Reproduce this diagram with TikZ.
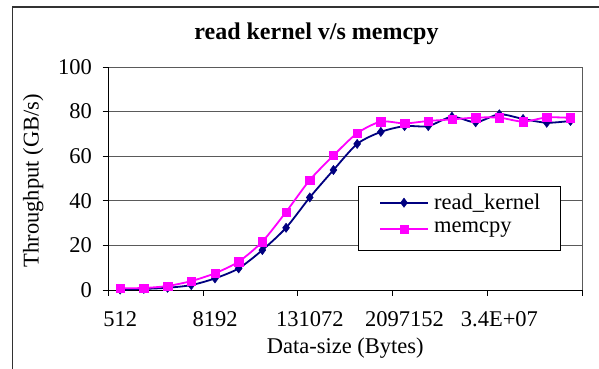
\documentclass[tikz,border=0pt]{standalone}
\usepackage{fontspec}
\setmainfont{Liberation Serif}
\usetikzlibrary{plotmarks}
\definecolor{navyc}{RGB}{0,0,128}
\definecolor{magc}{RGB}{255,0,255}
\definecolor{gridc}{RGB}{90,90,90}
\definecolor{framec}{RGB}{50,50,50}
\begin{document}
\begin{tikzpicture}[x=1pt,y=-1pt,
  lbl/.style={font=\fontsize{22.5}{27}\selectfont, inner sep=0pt},
  ttl/.style={font=\fontsize{24}{28}\selectfont\bfseries, inner sep=0pt},
  gridline/.style={draw=gridc, line width=0.9pt},
  axisline/.style={draw=black, line width=1pt},
  kern/.style={draw=navyc, line width=1.8pt, mark=diamond*, mark size=4.6pt, mark options={fill=navyc, draw=navyc, line width=0.5pt}},
  memc/.style={draw=magc, line width=1.8pt, mark=square*, mark size=4.2pt, mark options={fill=magc, draw=magc, line width=0.5pt}},
  legbox/.style={draw=black, fill=white, line width=1pt}]
\useasboundingbox (0,0) rectangle (599,369);
\fill[white] (0,0) rectangle (599,369);
% outer frame
\draw[framec, line width=1.6pt] (12.3,369) -- (12.3,7.3) -- (599,7.3);
% title
\node[ttl, anchor=base] (title) at (316.5,40) {read kernel v/s memcpy};
% gridlines
\foreach \v/\yy in {20/245.4, 40/200.8, 60/156.2, 80/111.6, 100/67.3} {
  \draw[gridline] (108.3,\yy) -- (582.3,\yy);
}
\draw[gridline] (582.3,67.3) -- (582.3,290);
% axes
\draw[axisline] (108.3,67.3) -- (108.3,290);
\draw[axisline] (102.5,290) -- (582.3,290);
\foreach \yy in {67.3,111.6,156.2,200.8,245.4} {
  \draw[axisline] (102.5,\yy) -- (108.3,\yy);
}
\foreach \k in {0,...,5} {
  \draw[axisline] ({108.3+\k*94.8},290) -- ({108.3+\k*94.8},296);
}
% y tick labels
\node[lbl, anchor=east] (y0) at (92,290) {0};
\node[lbl, anchor=east] (y20) at (92,245.4) {20};
\node[lbl, anchor=east] (y40) at (92,200.8) {40};
\node[lbl, anchor=east] (y60) at (92,156.2) {60};
\node[lbl, anchor=east] (y80) at (92,111.6) {80};
\node[lbl, anchor=east] (y100) at (92,67.3) {100};
% x tick labels
\node[lbl, anchor=base] (x1) at (120.2,326.7) {512};
\node[lbl, anchor=base] (x2) at (215.0,326.7) {8192};
\node[lbl, anchor=base] (x3) at (309.8,326.7) {131072};
\node[lbl, anchor=base] (x4) at (404.6,326.7) {2097152};
\node[lbl, anchor=base] (x5) at (499.4,326.7) {3.4E+07};
% axis titles
\node[lbl, anchor=base] (xt) at (345.3,353.3) {Data-size (Bytes)};
\node[lbl, rotate=90] (yt) at (33.3,180.8) {Throughput (GB/s)};
% series
\begin{scope}[shift={(120.15,290)}, x=23.7pt, y=2.23pt]
\draw[kern] plot[smooth, tension=0.45] coordinates {
 (0,0.2) (1,0.5) (2,1.0) (3,2.2) (4,5.2) (5,9.7) (6,17.9) (7,27.9) (8,41.5) (9,53.8)
 (10,65.5) (11,70.9) (12,73.5) (13,73.5) (14,77.7) (15,75.2) (16,78.8) (17,76.7) (18,75.0) (19,75.8)};
\draw[memc] plot[smooth, tension=0.45] coordinates {
 (0,0.8) (1,0.9) (2,1.8) (3,4.0) (4,7.5) (5,12.7) (6,21.7) (7,35.0) (8,49.3) (9,60.3)
 (10,70.3) (11,75.5) (12,74.7) (13,75.8) (14,76.5) (15,77.3) (16,77.3) (17,75.5) (18,77.4) (19,77.2)};
\end{scope}
% legend
\draw[legbox] (358.3,186) rectangle (560,250);
\draw[kern, mark=none] (380,202.7) -- (428.3,202.7);
\draw[kern] plot[mark indices={2}] coordinates {(380,202.7) (404,202.7) (428.3,202.7)};
\node[lbl, anchor=west] (l1) at (434,202.7) {read\_kernel};
\draw[memc, mark=none] (380,229.3) -- (428.3,229.3);
\draw[memc] plot[mark indices={2}] coordinates {(380,229.3) (404,229.3) (428.3,229.3)};
\node[lbl, anchor=west] (l2) at (434,229.3) {memcpy};
\end{tikzpicture}
\end{document}
